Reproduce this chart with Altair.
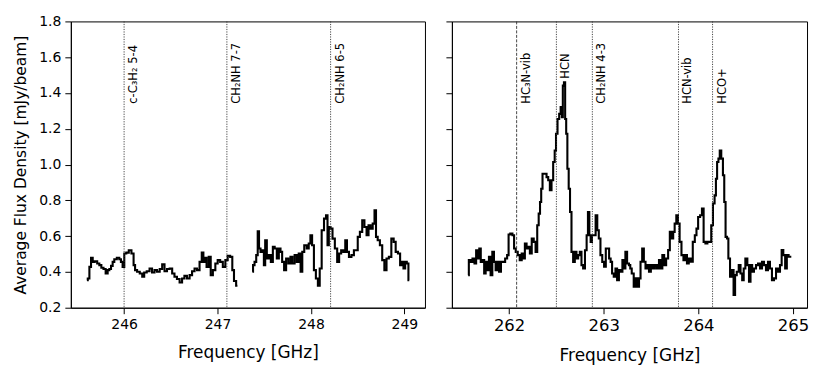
import altair as alt
import pandas as pd

# ---- Left band spectrum (two segments) ----
left1_freq = [245.602, 245.620, 245.637, 245.655, 245.673, 245.698, 245.726, 245.744, 245.769, 245.790,
              245.815, 245.833, 245.851, 245.869, 245.886, 245.904, 245.940, 245.957, 245.975, 245.993,
              246.011, 246.036, 246.064, 246.093, 246.110, 246.125, 246.153, 246.182, 246.206, 246.224,
              246.260, 246.285, 246.313, 246.338, 246.367, 246.395, 246.420, 246.445, 246.473, 246.502,
              246.527, 246.551, 246.580, 246.608, 246.633, 246.658, 246.687, 246.715, 246.740, 246.768,
              246.793, 246.822, 246.840, 246.857, 246.872, 246.893, 246.918, 246.936, 246.964, 246.989,
              247.014, 247.042, 247.071, 247.096, 247.121, 247.149, 247.167, 247.185, 247.213]
left1_flux = [0.354, 0.363, 0.428, 0.479, 0.456, 0.460, 0.447, 0.438, 0.423, 0.416,
              0.391, 0.410, 0.416, 0.434, 0.456, 0.471, 0.479, 0.471, 0.456, 0.428,
              0.503, 0.508, 0.521, 0.503, 0.438, 0.410, 0.401, 0.391, 0.373, 0.397,
              0.404, 0.419, 0.397, 0.410, 0.401, 0.416, 0.442, 0.404, 0.416, 0.419,
              0.391, 0.373, 0.360, 0.341, 0.363, 0.378, 0.363, 0.382, 0.404, 0.419,
              0.410, 0.456, 0.508, 0.456, 0.479, 0.428, 0.484, 0.382, 0.410, 0.447,
              0.466, 0.456, 0.428, 0.466, 0.490, 0.484, 0.410, 0.349, 0.323]

left2_freq = [247.373, 247.387, 247.405, 247.423, 247.437, 247.451, 247.469, 247.487, 247.505, 247.515,
              247.540, 247.558, 247.583, 247.601, 247.622, 247.647, 247.665, 247.683, 247.700, 247.725,
              247.743, 247.772, 247.789, 247.814, 247.836, 247.860, 247.878, 247.900, 247.914, 247.942,
              247.967, 247.985, 248.003, 248.021, 248.042, 248.063, 248.085, 248.102, 248.127, 248.152,
              248.170, 248.184, 248.198, 248.220, 248.241, 248.270, 248.291, 248.312, 248.334, 248.358,
              248.376, 248.394, 248.419, 248.447, 248.472, 248.490, 248.511, 248.536, 248.561, 248.583,
              248.607, 248.625, 248.650, 248.671, 248.689, 248.703, 248.725, 248.750, 248.775, 248.796,
              248.821, 248.846, 248.874, 248.896, 248.917, 248.945, 248.963, 248.981, 248.999, 249.017,
              249.034, 249.052]
left2_flux = [0.401, 0.438, 0.456, 0.494, 0.627, 0.531, 0.512, 0.521, 0.438, 0.577,
              0.475, 0.494, 0.456, 0.540, 0.531, 0.475, 0.531, 0.512, 0.456, 0.410,
              0.475, 0.447, 0.484, 0.447, 0.494, 0.456, 0.503, 0.401, 0.512, 0.549,
              0.531, 0.559, 0.605, 0.549, 0.410, 0.363, 0.323, 0.419, 0.633, 0.698,
              0.717, 0.549, 0.651, 0.642, 0.586, 0.531, 0.456, 0.503, 0.521, 0.512,
              0.577, 0.512, 0.484, 0.494, 0.521, 0.521, 0.596, 0.624, 0.689, 0.651,
              0.605, 0.661, 0.642, 0.670, 0.744, 0.596, 0.577, 0.549, 0.466, 0.410,
              0.475, 0.484, 0.586, 0.568, 0.512, 0.503, 0.438, 0.456, 0.419, 0.456,
              0.447, 0.354]

# ---- Right band spectrum ----
right_freq = [261.568, 261.582, 261.603, 261.624, 261.645, 261.659, 261.677, 261.694, 261.708, 261.730,
              261.744, 261.761, 261.779, 261.796, 261.814, 261.832, 261.849, 261.867, 261.884, 261.905,
              261.923, 261.948, 261.969, 261.990, 262.000, 262.025, 262.046, 262.060, 262.081, 262.102,
              262.123, 262.144, 262.158, 262.176, 262.194, 262.211, 262.229, 262.250, 262.271, 262.289,
              262.306, 262.320, 262.334, 262.345, 262.362, 262.387, 262.405, 262.422, 262.440, 262.457,
              262.475, 262.489, 262.503, 262.521, 262.538, 262.552, 262.563, 262.573, 262.587, 262.598,
              262.609, 262.623, 262.637, 262.651, 262.668, 262.686, 262.703, 262.721, 262.739, 262.756,
              262.774, 262.791, 262.813, 262.826, 262.841, 262.855, 262.869, 262.883, 262.904, 262.925,
              262.939, 262.957, 262.974, 262.995, 263.013, 263.031, 263.048, 263.066, 263.080, 263.097,
              263.115, 263.133, 263.150, 263.171, 263.189, 263.206, 263.220, 263.238, 263.256, 263.277,
              263.284, 263.308, 263.326, 263.347, 263.364, 263.382, 263.396, 263.417, 263.431, 263.452,
              263.470, 263.487, 263.509, 263.530, 263.551, 263.575, 263.593, 263.611, 263.628, 263.649,
              263.670, 263.691, 263.706, 263.727, 263.741, 263.758, 263.776, 263.793, 263.811, 263.832,
              263.853, 263.871, 263.888, 263.909, 263.930, 263.952, 263.973, 263.987, 264.008, 264.029,
              264.047, 264.064, 264.085, 264.106, 264.127, 264.145, 264.163, 264.180, 264.191, 264.205,
              264.219, 264.233, 264.251, 264.268, 264.279, 264.296, 264.310, 264.324, 264.345, 264.363,
              264.381, 264.395, 264.416, 264.437, 264.454, 264.472, 264.486, 264.507, 264.528, 264.542,
              264.560, 264.577, 264.598, 264.620, 264.641, 264.662, 264.683, 264.704, 264.725, 264.746,
              264.767, 264.788, 264.810, 264.831, 264.852, 264.873, 264.887, 264.908, 264.926, 264.943,
              264.964, 264.982]
right_flux = [0.382, 0.466, 0.456, 0.475, 0.447, 0.521, 0.475, 0.531, 0.456, 0.466,
              0.391, 0.456, 0.410, 0.484, 0.382, 0.512, 0.456, 0.410, 0.456, 0.401,
              0.456, 0.456, 0.475, 0.494, 0.609, 0.614, 0.605, 0.531, 0.512, 0.494,
              0.466, 0.503, 0.475, 0.559, 0.531, 0.540, 0.503, 0.587, 0.568, 0.512,
              0.661, 0.726, 0.791, 0.865, 0.949, 0.949, 0.930, 0.912, 0.856, 0.912,
              1.014, 1.079, 1.172, 1.255, 1.283, 1.321, 1.265, 1.441, 1.460, 1.255,
              1.172, 0.977, 0.865, 0.735, 0.512, 0.456, 0.512, 0.475, 0.494, 0.512,
              0.438, 0.419, 0.521, 0.605, 0.735, 0.605, 0.568, 0.605, 0.605, 0.717,
              0.633, 0.587, 0.494, 0.456, 0.429, 0.531, 0.531, 0.475, 0.456, 0.391,
              0.373, 0.419, 0.354, 0.410, 0.401, 0.466, 0.419, 0.512, 0.447, 0.438,
              0.419, 0.391, 0.317, 0.364, 0.317, 0.364, 0.457, 0.531, 0.457, 0.419,
              0.438, 0.401, 0.438, 0.419, 0.438, 0.419, 0.466, 0.419, 0.494, 0.438,
              0.475, 0.522, 0.624, 0.587, 0.624, 0.670, 0.717, 0.670, 0.568, 0.494,
              0.466, 0.494, 0.447, 0.475, 0.457, 0.568, 0.605, 0.642, 0.707, 0.717,
              0.754, 0.568, 0.559, 0.568, 0.568, 0.661, 0.782, 0.828, 0.921, 1.014,
              1.033, 1.079, 1.033, 0.940, 0.791, 0.596, 0.587, 0.475, 0.373, 0.410,
              0.271, 0.382, 0.401, 0.438, 0.391, 0.354, 0.419, 0.475, 0.438, 0.345,
              0.438, 0.401, 0.419, 0.438, 0.447, 0.419, 0.457, 0.438, 0.410, 0.457,
              0.419, 0.354, 0.364, 0.419, 0.401, 0.438, 0.522, 0.494, 0.419, 0.494,
              0.485, 0.485]

# ---- Line identifications ----
left_line_names = ["c-C₃H₂ 5-4", "CH₂NH 7-7", "CH₂NH 6-5"]
left_line_freq = [246.00, 247.10, 248.21]
left_label_y = [1.34, 1.34, 1.34]

right_line_names = ["HC₃N-vib", "HCN", "CH₂NH 4-3", "HCN-vib", "HCO+"]
right_line_freq = [262.08, 262.50, 262.88, 263.79, 264.15]
right_label_y = [1.34, 1.48, 1.34, 1.34, 1.34]
right_line_style = ["dashed", "dotted", "dotted", "dotted", "dotted"]

left_ticks = [246, 247, 248, 249]
right_ticks = [262, 263, 264, 265]
y_ticks = [0.2, 0.4, 0.6, 0.8, 1.0, 1.2, 1.4, 1.6, 1.8]

FONT = "DejaVu Sans"

left_df = pd.DataFrame({
    "freq": left1_freq + left2_freq,
    "flux": left1_flux + left2_flux,
    "seg": ["a"] * len(left1_freq) + ["b"] * len(left2_freq),
})
right_df = pd.DataFrame({"freq": right_freq, "flux": right_flux, "seg": ["a"] * len(right_freq)})
left_lines = pd.DataFrame({"freq": left_line_freq, "name": left_line_names, "ly": left_label_y})
right_lines = pd.DataFrame({"freq": right_line_freq, "name": right_line_names,
                            "ly": right_label_y, "style": right_line_style})

y_scale = alt.Scale(domain=[0.2, 1.8], nice=False, zero=False)


def panel(df, lines, xdomain, ticks, tick_font, show_y):
    xs = alt.Scale(domain=xdomain, nice=False, zero=False)
    xaxis = alt.Axis(values=ticks, format="d", title="Frequency [GHz]", labelFontSize=tick_font,
                     titleFontSize=17, grid=False, tickSize=6, labelPadding=4, titlePadding=13,
                     labelOverlap=False)
    if show_y:
        yaxis = alt.Axis(values=y_ticks, format=".1f", title="Average Flux Density [mJy/beam]",
                         labelFontSize=14, titleFontSize=15.5, grid=False, tickSize=6,
                         labelPadding=4, titlePadding=10, labelOverlap=False)
    else:
        yaxis = alt.Axis(values=y_ticks, labels=False, title=None, grid=False, tickSize=6)

    X = alt.X("freq:Q", scale=xs, axis=xaxis)
    spec = alt.Chart(df).mark_line(interpolate="step", color="black", strokeWidth=2.1,
                                   strokeJoin="miter", clip=True).encode(
        x=X,
        y=alt.Y("flux:Q", scale=y_scale, axis=yaxis),
        detail="seg:N",
    )
    if "style" in lines.columns:
        dotted = alt.Chart(lines[lines["style"] == "dotted"]).mark_rule(
            color="#333333", strokeWidth=0.9, strokeDash=[1.2, 1.3]).encode(x=X)
        dashed = alt.Chart(lines[lines["style"] == "dashed"]).mark_rule(
            color="#333333", strokeWidth=0.9, strokeDash=[3, 1.5]).encode(x=X)
        rules = [dotted, dashed]
    else:
        rules = [alt.Chart(lines).mark_rule(color="#333333", strokeWidth=0.9,
                                            strokeDash=[1.2, 1.3]).encode(x=X)]
    labels = alt.Chart(lines).mark_text(angle=270, align="left", baseline="top", dy=4,
                                        fontSize=11.5, font=FONT, color="black").encode(
        x=X,
        y=alt.Y("ly:Q", scale=y_scale, axis=yaxis),
        text="name:N",
    )
    return alt.layer(spec, *rules, labels)


left = panel(left_df, left_lines, [245.43, 249.22], left_ticks, 14, True).properties(width=355, height=287)
right = panel(right_df, right_lines, [261.396, 265.148], right_ticks, 16.5, False).properties(width=356, height=287)

chart = alt.hconcat(left, right, spacing=19).properties(
    padding={"left": 5, "top": 5, "right": 5, "bottom": 5}
).configure_view(stroke="black", strokeWidth=1).configure_axis(
    labelFont=FONT, titleFont=FONT, labelColor="black", titleColor="black",
    domainColor="black", tickColor="black", titleFontWeight="normal", domainWidth=1, tickWidth=1,
    labelOverlap=False
)

chart.save("out.html", embed_options={"renderer": "svg", "actions": False})
